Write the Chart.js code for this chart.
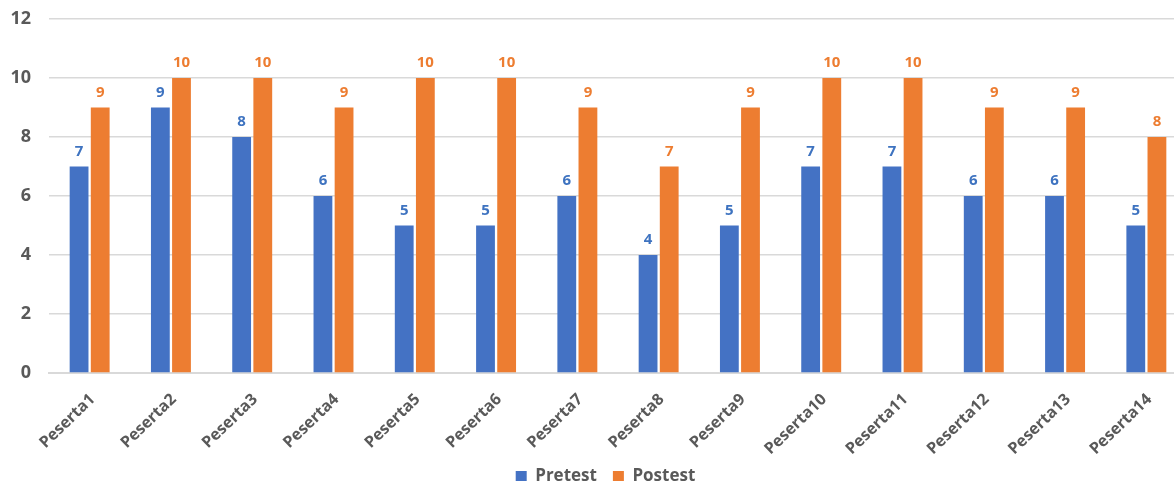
<!DOCTYPE html>
<html>
<head>
<meta charset="utf-8">
<script src="https://cdn.jsdelivr.net/npm/chart.js@4.4.1/dist/chart.umd.min.js"></script>
<style>
  html, body { margin: 0; padding: 0; background: #fff; overflow: hidden; }
  #wrap { width: 1211px; height: 481px; position: relative; }
</style>
</head>
<body>
<div id="wrap"><canvas id="c"></canvas></div>
<script>
const categories = ["Peserta1","Peserta2","Peserta3","Peserta4","Peserta5","Peserta6","Peserta7","Peserta8","Peserta9","Peserta10","Peserta11","Peserta12","Peserta13","Peserta14"];
const pretest  = [7, 9, 8, 6, 5, 5, 6, 4, 5, 7, 7, 6, 6, 5];
const postest  = [9, 10, 10, 9, 10, 10, 9, 7, 9, 10, 10, 9, 9, 8];
const seriesNames = ["Pretest", "Postest"];
const yTicks = [0, 2, 4, 6, 8, 10, 12];

const BLUE = "#4472C4", ORANGE = "#ED7D31";
const FONT = "'Open Sans', 'DejaVu Sans', sans-serif";
const PLOT_BOTTOM = 373;

const valueLabels = {
  id: "valueLabels",
  afterDatasetsDraw(chart) {
    const ctx = chart.ctx;
    ctx.save();
    ctx.font = "bold 15px " + FONT;
    ctx.textAlign = "center";
    ctx.textBaseline = "middle";
    chart.data.datasets.forEach((ds, i) => {
      const meta = chart.getDatasetMeta(i);
      ctx.fillStyle = ds.labelColor;
      meta.data.forEach((bar, j) => {
        ctx.fillText(String(ds.data[j]), bar.x, bar.y - 15);
      });
    });
    ctx.restore();
  }
};

// let the x labels use the whole space down to the canvas edge and nudge the legend down
const layoutTweak = {
  id: "layoutTweak",
  afterLayout(chart) {
    const x = chart.scales.x;
    if (x) x.bottom = chart.height;
    const lg = chart.legend;
    if (lg) {
      const h = lg.height;
      lg.top = 452; lg.bottom = 452 + h;
      lg.left += 12; lg.right += 12;
    }
  }
};

new Chart(document.getElementById("c"), {
  type: "bar",
  data: {
    labels: categories,
    datasets: [
      { label: seriesNames[0], data: pretest, backgroundColor: BLUE, labelColor: "#3E73C0",
        categoryPercentage: 0.52, barPercentage: 0.89 },
      { label: seriesNames[1], data: postest, backgroundColor: ORANGE, labelColor: ORANGE,
        categoryPercentage: 0.52, barPercentage: 0.89 }
    ]
  },
  plugins: [valueLabels, layoutTweak],
  options: {
    responsive: true,
    maintainAspectRatio: false,
    animation: false,
    layout: { padding: { top: 0, left: 0, right: 24, bottom: 0 } },
    plugins: {
      tooltip: { enabled: false },
      legend: {
        position: "bottom",
        labels: {
          boxWidth: 11, boxHeight: 11, padding: 16,
          color: "#595959",
          font: { family: FONT, size: 17, weight: "bold" }
        }
      }
    },
    scales: {
      x: {
        grid: { display: false },
        border: { color: "#d9d9d9", width: 2 },
        ticks: {
          color: "#595959",
          font: { family: FONT, size: 16, weight: "bold" },
          minRotation: 44, maxRotation: 44, autoSkip: false, padding: 9, labelOffset: 3
        },
        afterFit(scale) {
          const lh = scale.chart.legend ? scale.chart.legend.height : 44;
          scale.height = scale.chart.height - PLOT_BOTTOM - lh;
        }
      },
      y: {
        min: 0, max: 12,
        afterBuildTicks(scale) { scale.ticks = yTicks.map(v => ({ value: v })); },
        grid: { color: "#d9d9d9", lineWidth: 1.5, drawTicks: false },
        border: { display: false },
        ticks: {
          color: "#595959",
          padding: 18,
          font: { family: FONT, size: 18, weight: "bold" }
        },
        afterFit(scale) { scale.width = 49; scale.paddingTop = 19; scale.paddingBottom = 0; }
      }
    }
  }
});
</script>
</body>
</html>
